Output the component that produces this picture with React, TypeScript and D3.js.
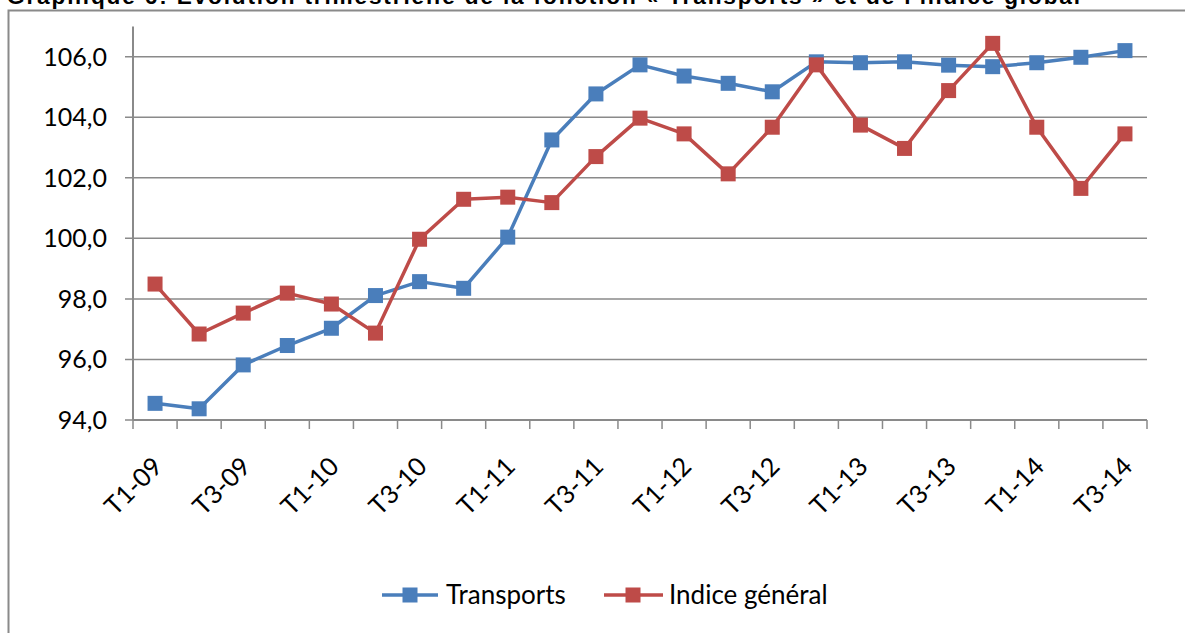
import React from "react";
import * as d3 from "d3";

const categories = [
  "T1-09", "T2-09", "T3-09", "T4-09",
  "T1-10", "T2-10", "T3-10", "T4-10",
  "T1-11", "T2-11", "T3-11", "T4-11",
  "T1-12", "T2-12", "T3-12", "T4-12",
  "T1-13", "T2-13", "T3-13", "T4-13",
  "T1-14", "T2-14", "T3-14",
];
const transports = [
  94.55, 94.37, 95.82, 96.46, 97.03, 98.11, 98.57, 98.35, 100.04, 103.25, 104.77, 105.73,
  105.36, 105.12, 104.84, 105.83, 105.8, 105.83, 105.72, 105.67, 105.8, 105.98, 106.2,
];
const indiceGeneral = [
  98.49, 96.84, 97.53, 98.19, 97.83, 96.87, 99.97, 101.29, 101.36, 101.18, 102.7, 103.97,
  103.45, 102.13, 103.67, 105.73, 103.74, 102.97, 104.88, 106.44, 103.67, 101.65, 103.45,
];
const yTicks = [94, 96, 98, 100, 102, 104, 106];
const xLabels = ["T1-09", "T3-09", "T1-10", "T3-10", "T1-11", "T3-11", "T1-12", "T3-12", "T1-13", "T3-13", "T1-14", "T3-14"];
const seriesNames = ["Transports", "Indice général"];
const title = "Graphique 6: Evolution trimestrielle de la fonction « Transports » et de l'indice global";

const W = 1185;
const H = 633;
const plot = { left: 133, right: 1147, top: 26.4, bottom: 420 };
const BLUE = "#4a7ebb";
const RED = "#be4b48";
const GRID = "#8a8a8a";
const FONT = "Lato, 'Noto Sans', sans-serif";

export default function App() {
  const x = d3.scaleBand<string>().domain(categories).range([plot.left, plot.right]).padding(0);
  const y = d3.scaleLinear().domain([94, 107]).range([plot.bottom, plot.top]);
  const cx = (c: string) => (x(c) as number) + x.bandwidth() / 2;
  const line = d3
    .line<number>()
    .x((_, i) => cx(categories[i]))
    .y((d) => y(d));
  const series = [
    { name: seriesNames[0], values: transports, color: BLUE },
    { name: seriesNames[1], values: indiceGeneral, color: RED },
  ];
  const boundaries = categories.map((c) => x(c) as number).concat([plot.right]);
  const ms = 15;

  return (
    <svg
      width={W}
      height={H}
      style={{ position: "absolute", left: 0, top: 0, display: "block", background: "#fff" }}
    >
      <rect x={0} y={0} width={W} height={H} fill="#fff" />
      <text
        x={7}
        y={4}
        fontFamily="'Liberation Sans', Arial, sans-serif"
        fontWeight="bold"
        fontSize={22.6}
        textLength={1073}
        lengthAdjust="spacing"
        fill="#000"
      >
        {title}
      </text>
      <rect x={8.5} y={10.5} width={W + 50} height={H + 50} fill="none" stroke={GRID} strokeWidth={2} />

      {yTicks.map((t) => (
        <g key={t}>
          <line x1={plot.left - 8} x2={plot.right} y1={y(t)} y2={y(t)} stroke={GRID} strokeWidth={1.5} />
          <text
            x={107}
            y={y(t)}
            dy="0.36em"
            textAnchor="end"
            fontFamily={FONT}
            fontSize={25}
            fill="#000"
          >
            {t.toFixed(1).replace(".", ",")}
          </text>
        </g>
      ))}
      <line x1={plot.left} x2={plot.left} y1={plot.top} y2={plot.bottom} stroke={GRID} strokeWidth={2} />
      <line x1={plot.left} x2={plot.right} y1={plot.bottom} y2={plot.bottom} stroke={GRID} strokeWidth={2} />
      {boundaries.map((b, i) => (
        <line key={i} x1={b} x2={b} y1={plot.bottom} y2={plot.bottom + 9} stroke={GRID} strokeWidth={1.5} />
      ))}
      {xLabels.map((l) => {
        const ax = cx(l) + 9;
        const ay = plot.bottom + 48;
        return (
          <text
            key={l}
            x={ax}
            y={ay}
            textAnchor="end"
            transform={`rotate(-45 ${ax} ${ay})`}
            fontFamily={FONT}
            fontSize={25.5}
            fill="#000"
          >
            {l}
          </text>
        );
      })}

      {series.map((s) => (
        <g key={s.name}>
          <path d={line(s.values) || ""} fill="none" stroke={s.color} strokeWidth={3.5} strokeLinejoin="round" />
          {s.values.map((v, i) => (
            <rect
              key={i}
              x={cx(categories[i]) - ms / 2}
              y={y(v) - ms / 2}
              width={ms}
              height={ms}
              fill={s.color}
            />
          ))}
        </g>
      ))}

      {/* legend */}
      <g>
        <line x1={382} x2={438} y1={595} y2={595} stroke={BLUE} strokeWidth={3.5} />
        <rect x={410 - 7.5} y={595 - 7.5} width={15} height={15} fill={BLUE} />
        <text x={446} y={604} fontFamily={FONT} fontSize={26} fill="#000">
          {seriesNames[0]}
        </text>
        <line x1={604} x2={663} y1={595} y2={595} stroke={RED} strokeWidth={3.5} />
        <rect x={633 - 7.5} y={595 - 7.5} width={15} height={15} fill={RED} />
        <text x={669} y={604} fontFamily={FONT} fontSize={26} fill="#000">
          {seriesNames[1]}
        </text>
      </g>
    </svg>
  );
}
